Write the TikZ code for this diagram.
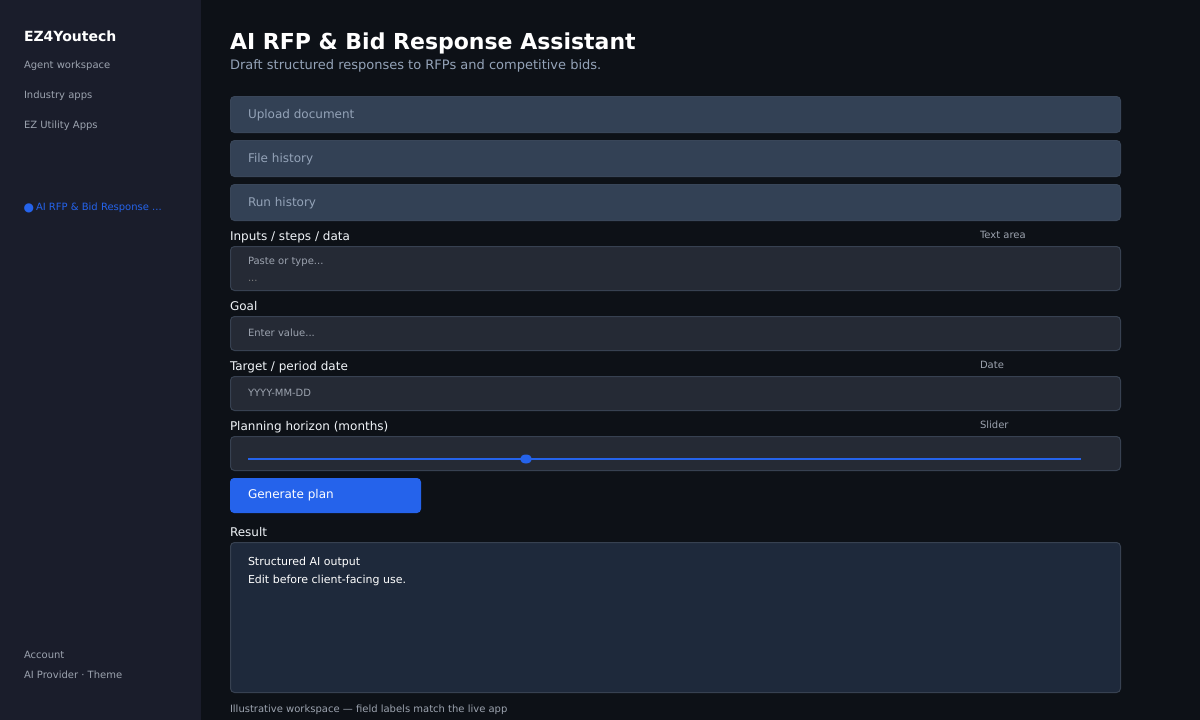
\documentclass[tikz,border=0pt]{standalone}
\usepackage{fontspec}
\setmainfont{DejaVu Sans}
\usetikzlibrary{positioning,shapes.geometric}

\definecolor{pagebg}{HTML}{0D1117}
\definecolor{sidebg}{HTML}{1A1D2B}
\definecolor{barbg}{HTML}{334155}
\definecolor{barline}{HTML}{394659}
\definecolor{fieldbg}{HTML}{252A35}
\definecolor{fieldline}{HTML}{374151}
\definecolor{resultbg}{HTML}{1E293B}
\definecolor{accent}{HTML}{2563EB}
\definecolor{mutedtext}{HTML}{9CA3AF}
\definecolor{bartext}{HTML}{94A3B8}
\definecolor{labeltext}{HTML}{F1F5F9}

\tikzset{
	plain/.style={inner sep=0pt,outer sep=0pt,anchor=base west},
	sizeten/.style={font=\fontsize{10}{12}\selectfont},
	sideitem/.style={plain,sizeten,text=mutedtext},
	fieldlabel/.style={plain,font=\fontsize{12}{14}\selectfont,text=labeltext},
	fieldkind/.style={plain,sizeten,text=mutedtext},
	hint/.style={plain,sizeten,text=mutedtext},
	panel/.style={rectangle,rounded corners=4pt,inner sep=0pt,outer sep=0pt,minimum width=890pt,line width=1pt},
	barpanel/.style={panel,draw=barline,fill=barbg,minimum height=36pt},
	fieldpanel/.style={panel,draw=fieldline,fill=fieldbg}
}

\begin{document}
\begin{tikzpicture}[x=1pt,y=-1pt]
	\useasboundingbox (0,0) rectangle (1200,720);
	\fill[pagebg] (0,0) rectangle (1200,720);
	\fill[sidebg] (0,0) rectangle (201,720);

	% sidebar
	\node[plain,font=\fontsize{14}{16}\selectfont\bfseries,text=white] (Brand) at (24,41) {EZ4Youtech};
	\node[sideitem] (AgentItem)    at (24,68)  {Agent workspace};
	\node[sideitem] (IndustryItem) at (24,98)  {Industry apps};
	\node[sideitem] (UtilityItem)  at (24,128) {EZ Utility Apps};
	\node[plain,font=\fontsize{12}{14}\selectfont,text=accent] (ActiveDot) at (23.6,211) {●};
	\node[sideitem,text=accent] (ActiveItem) at (36,210) {AI RFP \& Bid Response ...};
	\node[sideitem] (AccountItem)  at (24,658) {Account};
	\node[sideitem] (ProviderItem) at (24,678) {AI Provider · Theme};

	% heading
	\node[plain,font=\fontsize{22}{26}\selectfont\bfseries,text=white] (Title) at (230,49) {AI RFP \& Bid Response Assistant};
	\node[plain,font=\fontsize{13}{16}\selectfont,text=bartext] (Subtitle) at (230,69) {Draft structured responses to RFPs and competitive bids.};

	% collapsed bars
	\node[barpanel]                    (UploadBar)  at (675.5,114.5) {};
	\node[barpanel,below=8pt of UploadBar] (FileBar) {};
	\node[barpanel,below=8pt of FileBar]   (RunBar)  {};
	\foreach \bar/\name in {UploadBar/Upload document,FileBar/File history,RunBar/Run history}
		\node[plain,font=\fontsize{12}{14}\selectfont,text=bartext,anchor=west] (\bar Text) at ([xshift=17.5pt,yshift=-1pt]\bar.west) {\name};

	% fields
	\node[fieldlabel] (InputsLabel) at (230,240) {Inputs / steps / data};
	\node[fieldkind]  (InputsKind)  at (980,238) {Text area};
	\node[fieldpanel,minimum height=44pt] (InputsField) at (675.5,268.5) {};
	\node[hint] (InputsHint) at (248,264) {Paste or type...};
	\node[hint,text=gray] (InputsMore) at (248,281) {...};

	\node[fieldlabel] (GoalLabel) at (230,310) {Goal};
	\node[fieldpanel,minimum height=34pt] (GoalField) at (675.5,333.5) {};
	\node[hint] (GoalHint) at (248,336) {Enter value...};

	\node[fieldlabel] (DateLabel) at (230,370) {Target / period date};
	\node[fieldkind]  (DateKind)  at (980,368) {Date};
	\node[fieldpanel,minimum height=34pt] (DateField) at (675.5,393.5) {};
	\node[hint] (DateHint) at (248,396) {YYYY-MM-DD};

	\node[fieldlabel] (HorizonLabel) at (230,430) {Planning horizon (months)};
	\node[fieldkind]  (HorizonKind)  at (980,428) {Slider};
	\node[fieldpanel,minimum height=34pt] (HorizonField) at (675.5,453.5) {};

	% slider
	\coordinate (SliderStart) at (248,459);
	\coordinate (SliderEnd)   at (1081,459);
	\draw[accent,line width=1.5pt] (SliderStart) -- (SliderEnd);
	\node[ellipse,fill=accent,inner sep=0pt,minimum width=12pt,minimum height=9pt] (SliderKnob) at (526,459) {};

	% button
	\node[rectangle,rounded corners=4pt,fill=accent,inner sep=0pt,outer sep=0pt,minimum width=191pt,minimum height=35pt] (GenerateButton) at (325.5,495.5) {};
	\node[plain,font=\fontsize{12}{14}\selectfont,text=white] (GenerateText) at (248,498) {Generate plan};

	% result
	\node[fieldlabel] (ResultLabel) at (230,536) {Result};
	\node[panel,draw=fieldline,fill=resultbg,minimum height=150pt] (ResultPanel) at (675.5,617.5) {};
	\node[plain,font=\fontsize{11}{13}\selectfont,text=white] (ResultLineA) at (248,565) {Structured AI output};
	\node[plain,font=\fontsize{11}{13}\selectfont,text=white] (ResultLineB) at (248,583) {Edit before client-facing use.};

	\node[hint] (FootNote) at (230,712) {Illustrative workspace — field labels match the live app};
\end{tikzpicture}
\end{document}
